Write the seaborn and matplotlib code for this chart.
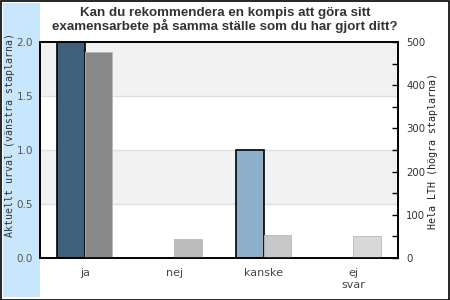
import matplotlib
matplotlib.use("Agg")
import matplotlib.pyplot as plt
import seaborn as sns
import pandas as pd
from matplotlib.patches import Rectangle
from matplotlib.ticker import MultipleLocator

categories = ["ja", "nej", "kanske", "ej\nsvar"]
urval_values = [2.0, 0.0, 1.0, 0.0]
lth_values = [476, 44, 53, 50]
urval_colors = ["#3f5f7a", "#3f5f7a", "#8fb0cb", "#8fb0cb"]
lth_colors = ["#888888", "#bbbbbb", "#c8c8c8", "#d8d8d8"]
left_ticks = [0.0, 0.5, 1.0, 1.5, 2.0]
title = "Kan du rekommendera en kompis att göra sitt\nexamensarbete på samma ställe som du har gjort ditt?"
left_label = "Aktuellt urval (vänstra staplarna)"
right_label = "Hela LTH (högra staplarna)"

sns.set_theme(style="white")
plt.rcParams["font.family"] = ["DejaVu Sans"]

fig = plt.figure(figsize=(4.5, 3.0), dpi=100)
fig.patch.set_facecolor("white")
fig.patches.append(Rectangle((3 / 450, 3 / 300), 37 / 450, 294 / 300, transform=fig.transFigure,
                             facecolor="#c8e7fc", edgecolor="none", zorder=-1))
fig.patches.append(Rectangle((0.5 / 450, 0.5 / 300), 448.5 / 450, 298.5 / 300, transform=fig.transFigure,
                             facecolor="none", edgecolor="black", linewidth=1.2, zorder=-1))

ax = fig.add_axes([40 / 450, 1 - 258 / 300, 358 / 450, 216 / 300])
ax.set_facecolor("white")

series = ["urval", "lth"]
df_left = pd.DataFrame({
    "category": categories * 2,
    "series": ["urval"] * 4 + ["lth"] * 4,
    "value": urval_values + [0] * 4,
})
df_right = pd.DataFrame({
    "category": categories * 2,
    "series": ["urval"] * 4 + ["lth"] * 4,
    "value": [0] * 4 + lth_values,
})

# background bands
for lo, hi in [(1.5, 2.0), (0.5, 1.0)]:
    ax.axhspan(lo, hi, color="#f2f2f2", zorder=0, lw=0)
for y in [0.5, 1.0, 1.5]:
    ax.axhline(y, color="#e0e0e0", lw=1, zorder=0.5)

sns.barplot(data=df_left, x="category", y="value", hue="series", hue_order=series,
            dodge=True, width=0.62, gap=0, errorbar=None, legend=False, ax=ax, zorder=2)
for bar, c, v in zip(ax.containers[0], urval_colors, urval_values):
    bar.set_facecolor(c)
    bar.set_edgecolor("black" if v > 0 else "none")
    bar.set_linewidth(1.2)
for bar in ax.containers[1]:
    bar.set_visible(False)

ax2 = ax.twinx()
sns.barplot(data=df_right, x="category", y="value", hue="series", hue_order=series,
            dodge=True, width=0.62, gap=0, errorbar=None, legend=False, ax=ax2, zorder=2)
for bar in ax2.containers[0]:
    bar.set_visible(False)
for bar, c in zip(ax2.containers[1], lth_colors):
    bar.set_facecolor(c)
    bar.set_edgecolor("#b8b8b8")
    bar.set_linewidth(0.6)

ax.set_xlim(-0.5, 3.5)
ax.set_ylim(0, 2.0)
ax2.set_ylim(0, 500)
ax.set_yticks(left_ticks)
ax.set_yticklabels([f"{t:.1f}" for t in left_ticks])
ax.tick_params(axis="y", left=True, right=False, length=0, pad=5, labelsize=7.5,
               labelcolor="#555555", labelleft=True)
ax.tick_params(axis="x", length=0, pad=7.5, labelsize=8, labelcolor="#444444")
ax2.yaxis.set_major_locator(MultipleLocator(100))
ax2.yaxis.set_minor_locator(MultipleLocator(50))
ax2.tick_params(axis="y", which="both", direction="in", length=4, width=1, color="black",
                pad=6, labelsize=7.3, labelcolor="#333333", left=False, right=True)
ax.set_xlabel("")
ax.set_ylabel("")
ax2.set_ylabel("")

for a in (ax, ax2):
    for s in a.spines.values():
        s.set_visible(True)
        s.set_color("black")
        s.set_linewidth(1.2)

fig.text(0.5, 1 - 20 / 300, title, ha="center", va="center", fontsize=9.6,
         fontweight="bold", color="#333333", family="Liberation Sans", linespacing=1.0)
fig.text(10 / 450, 1 - 135 / 300, left_label, rotation=90, ha="center", va="center",
         fontsize=7.1, family="DejaVu Sans Mono", color="#333333")
fig.text(433 / 450, 1 - 151 / 300, right_label, rotation=90, ha="center", va="center",
         fontsize=7.2, family="DejaVu Sans Mono", color="#222222")

fig.savefig("out.png", dpi=100)
